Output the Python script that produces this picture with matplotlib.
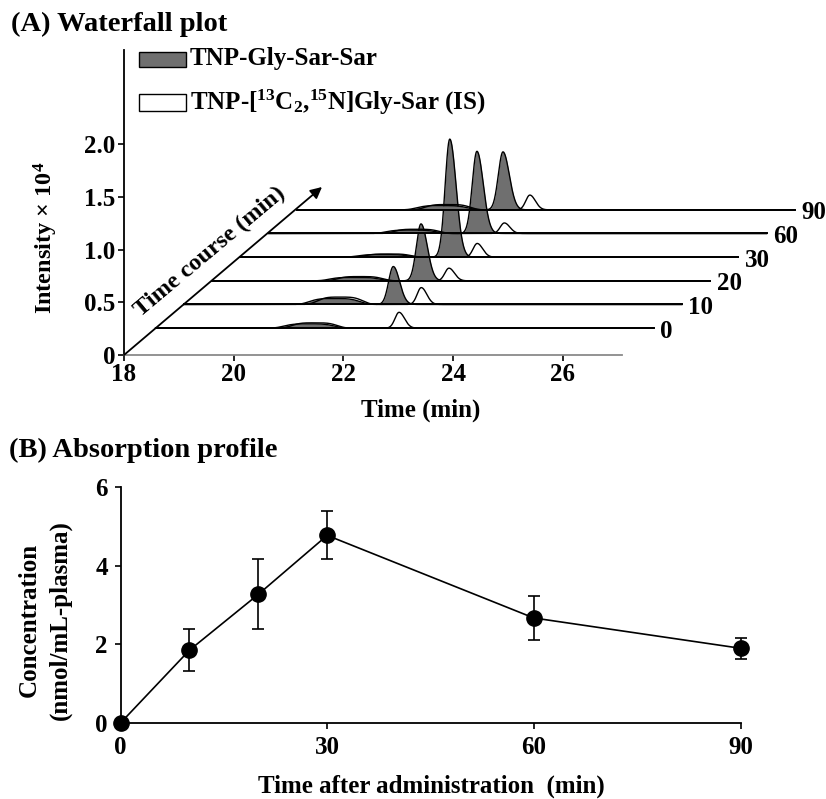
import matplotlib
matplotlib.use("Agg")
import matplotlib.pyplot as plt
from matplotlib.patches import Rectangle
import numpy as np

plt.rcParams['font.family'] = ['Liberation Serif', 'DejaVu Serif']
plt.rcParams['font.weight'] = 'bold'
plt.rcParams['mathtext.fontset'] = 'custom'
plt.rcParams['mathtext.rm'] = 'Liberation Serif:bold'
plt.rcParams['mathtext.bf'] = 'Liberation Serif:bold'
plt.rcParams['mathtext.it'] = 'Liberation Serif:bold:italic'

# (A) waterfall chromatograms, one trace per sampling time
trace_times = [0, 10, 20, 30, 60, 90]
rt_analyte = [21.80, 21.82, 21.81, 21.82, 21.80, 21.76]     # TNP-Gly-Sar-Sar (min)
h_analyte = [0.0, 0.36, 0.54, 1.12, 0.78, 0.55]             # x10^4
rt_is = [22.44, 22.33, 22.32, 22.32, 22.30, 22.25]          # internal standard (min)
h_is = [0.15, 0.16, 0.12, 0.13, 0.10, 0.14]
noise_c = [20.80, 20.75, 20.60, 20.60, 20.60, 20.65]        # early-eluting matrix hump
noise_h = [0.05, 0.07, 0.04, 0.03, 0.04, 0.05]

# (B) absorption profile
time_b = [0, 10, 20, 30, 60, 90]
conc = [0, 1.85, 3.27, 4.77, 2.67, 1.90]
conc_sd = [0, 0.54, 0.89, 0.61, 0.55, 0.27]

W, H = 826, 799
fig = plt.figure(figsize=(W / 100, H / 100), dpi=100)
FS = 18


def fx(x):
    return x / W


def fy(y):
    return 1 - y / H


def peak(t, rt, h, sl, sr):
    s = np.where(t < rt, sl, sr)
    return h * np.exp(-0.5 * ((t - rt) / s) ** 2)


def hump(t, c, h, w=0.5):
    return h * np.exp(-((t - c) / w) ** 4)


# ---------------- panel A ----------------
x0, x1 = 18, 27.08
axA = fig.add_axes([fx(124), fy(355), fx(622 - 124), (355 - 50) / H])
axA.set_xlim(x0, x1)
axA.set_ylim(0, 2.894)
axA.spines[['top', 'right']].set_visible(False)
axA.spines['bottom'].set_color('#8a8a8a')
axA.spines['bottom'].set_linewidth(1.3)
axA.spines['left'].set_linewidth(1.3)
axA.set_yticks([0, 0.5, 1.0, 1.5, 2.0])
axA.set_yticklabels(['0', '0.5', '1.0', '1.5', '2.0'])
axA.set_xticks([18, 20, 22, 24, 26])
axA.tick_params(direction='out', length=4, width=1.2, labelsize=FS, pad=2)

t = np.linspace(x0, x1, 2500)
grey = '#6f6f6f'
for i, lab in enumerate(trace_times):
    ox = 0.575 + 0.515 * i
    oy = 0.255 + 0.2245 * i
    z = 3 + 4 * i
    g = peak(t, rt_analyte[i], h_analyte[i], 0.085, 0.115) + hump(t, noise_c[i], noise_h[i] * 0.8)
    s_pk = peak(t, rt_is[i], h_is[i], 0.075, 0.1)
    s = s_pk + hump(t, noise_c[i] + 0.1, noise_h[i], 0.45)
    axA.fill_between(t + ox, oy, oy + g, color=grey, zorder=z, clip_on=False, lw=0)
    axA.fill_between(t + ox, oy, oy + s_pk, color='white', zorder=z + 1, clip_on=False, lw=0)
    axA.plot(t + ox, oy + s, color='k', lw=1.0, zorder=z + 2, clip_on=False)
    axA.plot(t + ox, oy + g, color='k', lw=1.0, zorder=z + 2, clip_on=False)
    axA.plot([x0 + ox, x1 + ox], [oy, oy], color='k', lw=1.4, zorder=z + 3, clip_on=False)
    axA.text(x1 + ox + 0.12, oy - 0.03, str(lab), fontsize=FS, ha='left', va='center',
             zorder=z + 3, clip_on=False)

axA.annotate('', xy=(21.61, 1.594), xytext=(18, 0), xycoords='data',
             arrowprops=dict(arrowstyle='-|>', lw=1.3, color='k', mutation_scale=17,
                             shrinkA=0, shrinkB=0), zorder=30, annotation_clip=False)
fig.text(fx(210), fy(252), 'Time course (min)', fontsize=17.5, rotation=40,
         rotation_mode='anchor', ha='center', va='center')

fig.text(fx(11), fy(24), '(A) Waterfall plot', fontsize=20.5, ha='left', va='center')
fig.text(fx(421), fy(410), 'Time (min)', fontsize=FS, ha='center', va='center')
fig.text(fx(46), fy(238), 'Intensity × 10$^{4}$', fontsize=17.5,
         rotation=90, ha='center', va='center')

# legend
fig.add_artist(Rectangle((fx(139), fy(67)), fx(47), 15 / H, transform=fig.transFigure,
                         facecolor=grey, edgecolor='k', lw=1.0))
fig.add_artist(Rectangle((fx(139), fy(111)), fx(47), 17 / H, transform=fig.transFigure,
                         facecolor='white', edgecolor='k', lw=1.0))
fig.text(fx(190), fy(59), 'TNP-Gly-Sar-Sar', fontsize=FS, ha='left', va='center')
fig.text(fx(190), fy(102), 'TNP-[$^{13}$C$_{2}$,$^{15}$N]Gly-Sar (IS)',
         fontsize=FS, ha='left', va='center')

# ---------------- panel B ----------------
axB = fig.add_axes([fx(120.5), fy(723), fx(620), 236 / H])
axB.errorbar(time_b, conc, yerr=conc_sd, color='k', lw=1.2, marker='o', markersize=11,
             capsize=4, capthick=1.2, elinewidth=1.2, clip_on=False, zorder=5)
axB.set_xlim(0, 90)
axB.set_ylim(0, 6)
axB.set_xticks([0, 30, 60, 90])
axB.set_yticks([0, 2, 4, 6])
axB.spines[['top', 'right']].set_visible(False)
axB.spines[['left', 'bottom']].set_linewidth(1.3)
axB.tick_params(direction='out', length=4, width=1.2, labelsize=FS, pad=5)

fig.text(fx(9), fy(450), '(B) Absorption profile', fontsize=20.5, ha='left', va='center')
fig.text(fx(431), fy(786), 'Time after administration  (min)', fontsize=FS,
         ha='center', va='center')
fig.text(fx(29), fy(620), 'Concentration', fontsize=FS, rotation=90, ha='center', va='center')
fig.text(fx(60), fy(620), '(nmol/mL-plasma)', fontsize=FS, rotation=90, ha='center', va='center')

fig.savefig('out.png', dpi=100)
